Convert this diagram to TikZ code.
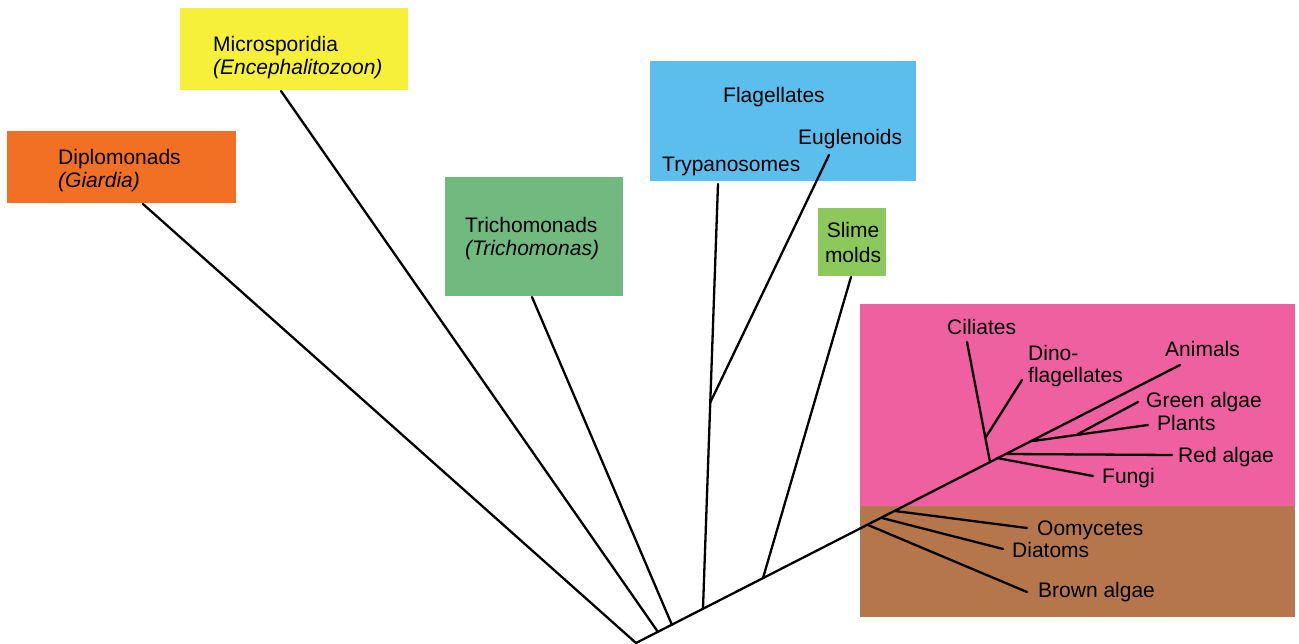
\documentclass[tikz,border=0pt]{standalone}
\usepackage{fontspec}
\setmainfont{Liberation Sans}
\definecolor{cOrange}{RGB}{242,112,36}
\definecolor{cYellow}{RGB}{246,240,58}
\definecolor{cTricho}{RGB}{112,186,128}
\definecolor{cBlue}{RGB}{92,190,236}
\definecolor{cSlime}{RGB}{140,200,92}
\definecolor{cPink}{RGB}{238,96,160}
\definecolor{cBrown}{RGB}{180,118,74}
\begin{document}
\begin{tikzpicture}[x=1pt,y=-1pt,
  box/.style={inner sep=0pt, outer sep=0pt, anchor=north west},
  lbl/.style={inner sep=0pt, anchor=base west, font=\fontsize{21}{25}\selectfont},
  branch/.style={line width=2.3pt, line cap=round, line join=round}]
\useasboundingbox (0,0) rectangle (1299,644);

% coloured panels
\node[box, fill=cOrange, minimum width=229pt, minimum height=72pt] (dipbox) at (7,131) {};
\node[box, fill=cYellow, minimum width=228pt, minimum height=82pt] (micbox) at (180,8) {};
\node[box, fill=cTricho, minimum width=178pt, minimum height=119pt] (tribox) at (445,177) {};
\node[box, fill=cBlue, minimum width=266pt, minimum height=120pt] (flabox) at (650,61) {};
\node[box, fill=cSlime, minimum width=68pt, minimum height=68pt] (slibox) at (818,208) {};
\node[box, fill=cPink, minimum width=435pt, minimum height=202pt] (crownbox) at (860,304) {};
\node[box, fill=cBrown, minimum width=435pt, minimum height=111pt] (strabox) at (860,506) {};

% labels
\node[lbl] (dip) at (58,165) {Diplomonads};
\node[lbl] (dipg) at (58,188) {\itshape (Giardia)};
\node[lbl] (mic) at (213,52) {Microsporidia};
\node[lbl] (micg) at (213,75) {\itshape (Encephalitozoon)};
\node[lbl] (tri) at (465,233) {Trichomonads};
\node[lbl] (trig) at (465,256) {\itshape (Trichomonas)};
\node[lbl] (fla) at (723,103) {Flagellates};
\node[lbl] (eug) at (798,145) {Euglenoids};
\node[lbl] (try) at (662,172) {Trypanosomes};
\node[lbl, anchor=base] (sli) at (853,238) {Slime};
\node[lbl, anchor=base] (slim) at (853,263) {molds};
\node[lbl] (cil) at (947,335) {Ciliates};
\node[lbl] (dino) at (1028,360) {Dino-};
\node[lbl] (dinof) at (1028,383) {flagellates};
\node[lbl] (ani) at (1165,357) {Animals};
\node[lbl] (gre) at (1146,407) {Green algae};
\node[lbl] (pla) at (1157,430) {Plants};
\node[lbl] (red) at (1178,462) {Red algae};
\node[lbl] (fun) at (1102,483) {Fungi};
\node[lbl] (oom) at (1037,535) {Oomycetes};
\node[lbl] (dia) at (1012,557) {Diatoms};
\node[lbl] (bro) at (1038,597) {Brown algae};

% branch tips and branch points
\coordinate (root) at (636,643);
\coordinate (tAni) at (1180,365);
\coordinate (tDip) at (143,204);
\coordinate (tMic) at (281,91);
\coordinate (jMic) at (658,632);
\coordinate (tTri) at (532,297);
\coordinate (jTri) at (672,625);
\coordinate (tTry) at (718,184);
\coordinate (jTry) at (703,608);
\coordinate (tEug) at (829,155);
\coordinate (jEug) at (710,403);
\coordinate (tSli) at (851,277);
\coordinate (jSli) at (763,578);
\coordinate (jBro) at (868,525);
\coordinate (tBro) at (1027,592);
\coordinate (jDia) at (882,518);
\coordinate (tDia) at (1003,549);
\coordinate (jOom) at (895,511);
\coordinate (tOom) at (1027,528);
\coordinate (jCil) at (990,462);
\coordinate (tCil) at (967,342);
\coordinate (jDino) at (986,437);
\coordinate (tDino) at (1022,380);
\coordinate (jFun) at (997,458);
\coordinate (tFun) at (1093,476);
\coordinate (jRed) at (1007,454);
\coordinate (tRed) at (1172,455);
\coordinate (jPla) at (1033,441);
\coordinate (tPla) at (1148,425);
\coordinate (jGre) at (1078,434);
\coordinate (tGre) at (1138,402);

% tree
\draw[branch] (root) -- (tAni);
\draw[branch] (root) -- (tDip);
\draw[branch] (jMic) -- (tMic);
\draw[branch] (jTri) -- (tTri);
\draw[branch] (jTry) -- (tTry);
\draw[branch] (jEug) -- (tEug);
\draw[branch] (jSli) -- (tSli);
\draw[branch] (jBro) -- (tBro);
\draw[branch] (jDia) -- (tDia);
\draw[branch] (jOom) -- (tOom);
\draw[branch] (jCil) -- (tCil);
\draw[branch] (jDino) -- (tDino);
\draw[branch] (jFun) -- (tFun);
\draw[branch] (jRed) -- (tRed);
\draw[branch] (jPla) -- (tPla);
\draw[branch] (jGre) -- (tGre);
\end{tikzpicture}
\end{document}
